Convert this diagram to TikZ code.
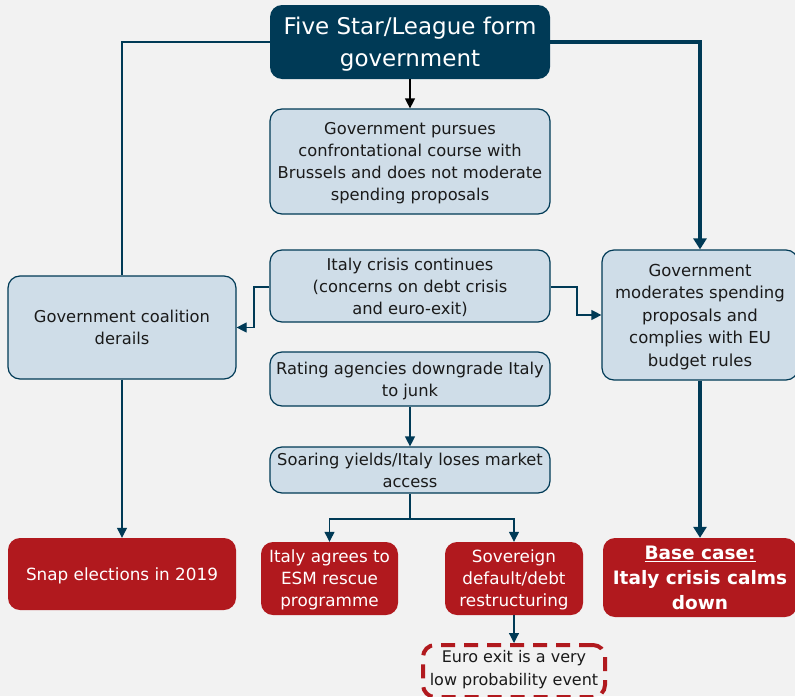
\documentclass[tikz,border=0pt]{standalone}
\usepackage{fontspec}
\setmainfont{DejaVu Sans}
\usetikzlibrary{arrows.meta}
\definecolor{navy}{HTML}{003A56}
\definecolor{bred}{HTML}{B1191E}
\definecolor{lblue}{HTML}{CFDDE8}
\definecolor{bg}{HTML}{F2F2F2}
\definecolor{txt}{HTML}{1A1A1A}
\tikzset{
  x=1pt,y=-1pt,
  bluebox/.style={draw=navy,line width=1.2pt,fill=lblue,rounded corners=12pt,align=center,text=txt,font=\fontsize{16.3}{22}\selectfont,inner sep=1pt,text depth=0pt},
  redbox/.style={fill=bred,rounded corners=12pt,align=center,text=white,font=\fontsize{16.8}{22}\selectfont,inner sep=1pt,text depth=0pt},
  topbox/.style={fill=navy,rounded corners=12pt,align=center,text=white,font=\fontsize{23}{32}\selectfont,inner sep=1pt,text depth=0pt},
  conn/.style={draw=navy,line width=1.2pt},
  thick conn/.style={draw=navy,line width=4pt},
  arr/.style={-{Triangle[width=10pt,length=10pt]}},
  thickarr/.style={-{Triangle[width=13pt,length=11pt]}},
}
\begin{document}
\begin{tikzpicture}
\fill[bg] (0,0) rectangle (795,696);
\useasboundingbox (0,0) rectangle (795,696);
\clip (0,0) rectangle (795,696);
\node[topbox,minimum width=280pt,minimum height=74pt] (top) at (410,42) {Five Star/League form\\government};
\node[bluebox,minimum width=280pt,minimum height=105pt] (g1) at (410,161.5) {Government pursues\\confrontational course with\\Brussels and does not moderate\\spending proposals};
\node[bluebox,minimum width=280pt,minimum height=72pt] (g2) at (410,286) {Italy crisis continues\\(concerns on debt crisis\\and euro-exit)};
\node[bluebox,minimum width=280pt,minimum height=54pt] (g3) at (410,379) {Rating agencies downgrade Italy\\to junk};
\node[bluebox,minimum width=280pt,minimum height=46pt] (g4) at (410,470) {Soaring yields/Italy loses market\\access};
\node[bluebox,minimum width=228pt,minimum height=103pt] (left) at (122,327.5) {Government coalition\\derails};
\node[bluebox,minimum width=196pt,minimum height=130pt,font=\fontsize{16.5}{22.5}\selectfont] (right) at (700,315) {Government\\moderates spending\\proposals and\\complies with EU\\budget rules};
\node[redbox,minimum width=228pt,minimum height=72pt] (snap) at (122,574) {Snap elections in 2019};
\node[redbox,minimum width=137pt,minimum height=73pt] (esm) at (329.5,578.5) {Italy agrees to\\ESM rescue\\programme};
\node[redbox,minimum width=138pt,minimum height=73pt] (sov) at (514,578.5) {Sovereign\\default/debt\\restructuring};
\node[draw=bred,line width=4pt,dash pattern=on 14pt off 9pt,fill=bg,rounded corners=12pt,minimum width=182pt,minimum height=52pt,anchor=north] (euro) at (514,643) {};
\node[align=center,text=txt,font=\fontsize{16}{23}\selectfont,inner sep=0pt] (eurotxt) at (514,670) {Euro exit is a very\\low probability event};
\node[redbox,minimum width=194pt,minimum height=79pt,font=\bfseries\fontsize{18.5}{25}\selectfont] (base) at (700,577.5) {\underline{Base case:}\\Italy crisis calms\\down};
% connectors
\draw[conn] (top.west) -| (left.north);
\draw[conn,arr] (left.south) -- (snap.north);
\draw[thick conn,thickarr] (top.east) -| (right.north);
\draw[thick conn,thickarr] (right.south) -- (base.north);
\draw[line width=1.2pt,black,arr] (top.south) -- (g1.north);
\draw[conn,arr] (g3.south) -- (g4.north);
\draw[conn,arr] (g2.west |- 0,287) -- (254,287) |- (left.east);
\draw[conn,arr] (g2.east |- 0,287) -- (577,287) |- (right.west);
\coordinate (split) at (410,519);
\draw[conn] (g4.south) -- (split);
\draw[conn,arr] (split) -| (esm.north);
\draw[conn,arr] (split) -| (sov.north);
\draw[conn,arr] (sov.south) -- (euro.north);
\end{tikzpicture}
\end{document}
